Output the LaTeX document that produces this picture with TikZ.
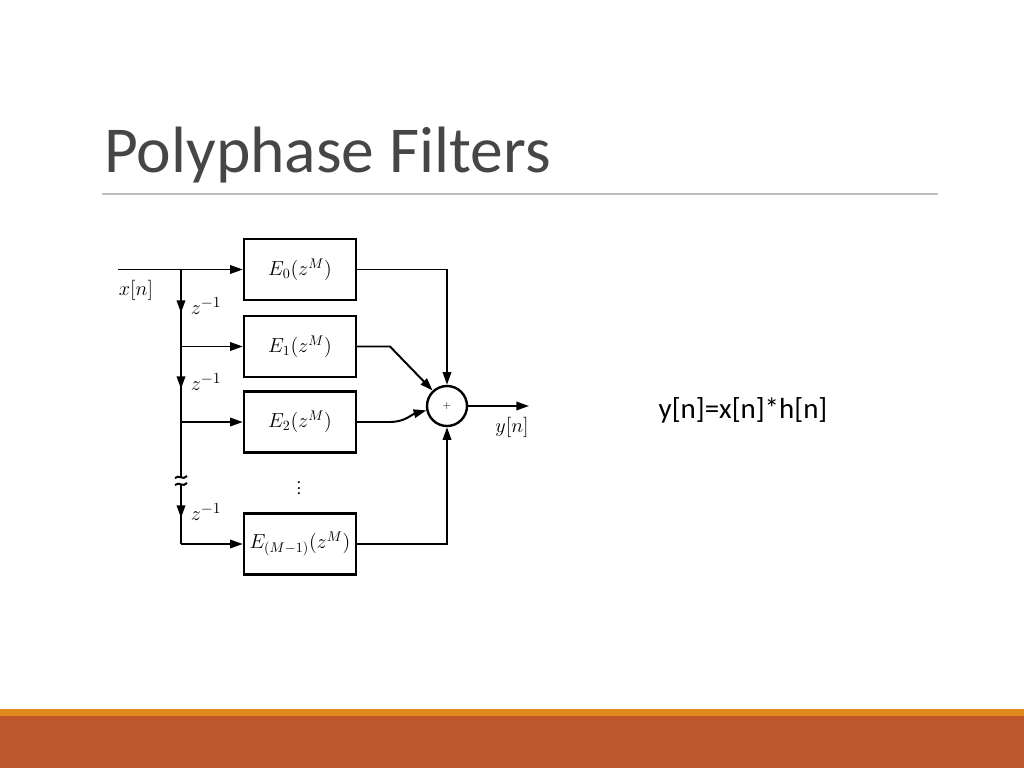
\documentclass[tikz,border=0pt]{standalone}
\usepackage{fontspec}
\setmainfont{Carlito}
\usetikzlibrary{positioning,arrows.meta}
\definecolor{titlegray}{RGB}{70,70,70}
\definecolor{rulegray}{RGB}{191,191,191}
\definecolor{barorange}{RGB}{224,138,30}
\definecolor{barrust}{RGB}{190,88,44}
\tikzset{
  sig/.style={line width=1.4pt,-{Triangle[length=9pt,width=6pt]}},
  wire/.style={line width=1.4pt},
  filt/.style={draw,line width=1.7pt,minimum width=2.8cm,minimum height=1.525cm,inner sep=0pt,
    font=\fontsize{14}{16}\selectfont},
  lbl/.style={font=\fontsize{15}{17}\selectfont,inner sep=0pt}
}
\begin{document}
\begin{tikzpicture}[x=0.025cm,y=-0.025cm]
	\useasboundingbox (0,0) rectangle (1024,768);
	% slide
	\fill[barorange] (0,709) rectangle (1024,716);
	\fill[barrust] (0,716) rectangle (1024,768);
	\node[anchor=base west,inner sep=0pt,text=titlegray,font=\fontsize{46.6}{52}\selectfont] (title) at (104,172) {Polyphase Filters};
	\draw[rulegray,line width=0.8pt] (102,194) -- (938,194);
	\node[font=\fontsize{20.6}{24}\selectfont] (conv) at (743,410) {y[n]=x[n]*h[n]};
	% filter bank
	\node[filt] (e0) at (300,269.5) {$E_0(z^M)$};
	\node[filt] (e1) at (300,346.5) {$E_1(z^M)$};
	\node[filt] (e2) at (300,422) {$E_2(z^M)$};
	\node[filt] (em) at (300,544) {$E_{(M-1)}(z^M)$};
	\node[draw,circle,line width=1.7pt,minimum size=1cm,inner sep=0pt] (sum) at (447,406) {\scriptsize$+$};
	\node (vdots) at (299,484) {\large$\vdots$};
	% input side
	\coordinate (xin) at (118,269.5);
	\coordinate (tap0) at (181,269.5);
	\coordinate (tap1) at (181,346.5);
	\coordinate (tap2) at (181,422);
	\coordinate (tap3) at (181,544);
	\coordinate (brk1) at (181,477);
	\coordinate (brk2) at (181,484);
	\node[lbl] (xlbl) at (136,290) {$x[n]$};
	\draw[sig] (xin) -- (e0.west);
	\draw[sig] (tap0) -- (181,313);
	\draw[wire] (181,310) -- (tap1);
	\draw[sig] (tap1) -- (e1.west);
	\draw[sig] (tap1) -- (181,389);
	\draw[wire] (181,386) -- (tap2);
	\draw[sig] (tap2) -- (e2.west);
	\draw[wire] (tap2) -- (brk1);
	\draw[wire] (175,478) .. controls (179,474) and (183,481) .. (187,476);
	\draw[wire] (175,485) .. controls (179,481) and (183,488) .. (187,483);
	\draw[sig] (brk2) -- (181,518);
	\draw[wire] (181,515) -- (tap3);
	\draw[sig] (tap3) -- (em.west);
	\node[lbl] (d1) at (206,306) {$z^{-1}$};
	\node[lbl] (d2) at (206,382) {$z^{-1}$};
	\node[lbl] (d3) at (206,512) {$z^{-1}$};
	% output side
	\draw[sig] (e0.east) -- (447,269.5) -- (sum.north);
	\draw[sig] (e1.east) -- (390,346.5) -- (sum.133);
	\draw[sig] (e2.east) -- (390,422) to[out=0,in=195] (sum.192);
	\draw[sig] (em.east) -- (447,544) -- (sum.south);
	\coordinate (yout) at (529,406);
	\draw[sig] (sum.east) -- (yout);
	\node[lbl] (ylbl) at (512,427) {$y[n]$};
\end{tikzpicture}
\end{document}
